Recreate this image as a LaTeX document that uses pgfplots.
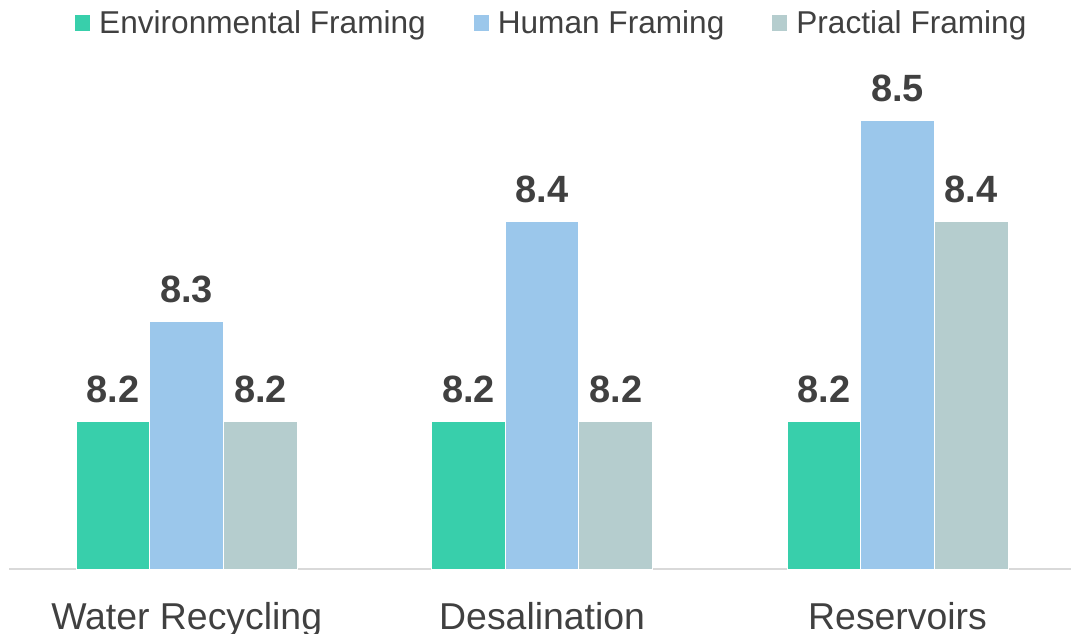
\documentclass[border=0pt]{standalone}
\usepackage{fontspec}
\setmainfont{Liberation Sans}
\usepackage{pgfplots}
\pgfplotsset{compat=1.18}
\definecolor{cgreen}{HTML}{38CFAB}
\definecolor{cblue}{HTML}{9BC7EB}
\definecolor{cgray}{HTML}{B5CDCE}
\definecolor{txt}{HTML}{404040}
\definecolor{axl}{HTML}{D9D9D9}
\begin{document}
\begin{tikzpicture}
\useasboundingbox (-9pt,-64pt) rectangle (1062pt,569pt);
\begin{axis}[
  at={(0,0)}, anchor=south west,
  scale only axis, width=1062pt, height=548pt,
  xmin=-0.5, xmax=2.488, ymin=8.052, ymax=8.6,
  clip=false,
  axis x line=bottom, axis y line=none,
  x axis line style={draw=axl, line width=1.5pt, -},
  xtick={0,1,2},
  xticklabels={Water Recycling, Desalination, Reservoirs},
  xtick style={draw=none},
  ytick=\empty,
  /pgf/number format/assume math mode=true,
  xticklabel style={font=\fontsize{37.4}{44}\selectfont, text=txt, anchor=base, yshift=-56pt, inner sep=0pt},
  ybar=0pt, bar width=73.7pt,
  nodes near coords,
  nodes near coords style={font=\fontsize{38}{44}\selectfont\bfseries, text=txt, anchor=base, yshift=19pt, inner sep=0pt},
  legend columns=3,
  legend style={draw=none, fill=none, at={(rel axis cs:0.0612,1.02)}, anchor=north west,
    inner sep=0pt, font=\fontsize{31.6}{38}\selectfont, text=txt,
    /tikz/every even column/.append style={column sep=47pt},
    nodes={inner sep=0pt}},
  legend cell align=left,
  legend image code/.code={\path (0pt,0pt) -- (24pt,0pt); \fill[#1] (0pt,-9pt) rectangle (16pt,7.5pt);},
]
\addplot[fill=cgreen, draw=white, line width=1pt] coordinates {(0,8.2) (1,8.2) (2,8.2)};
\addplot[fill=cblue, draw=white, line width=1pt] coordinates {(0,8.3) (1,8.4) (2,8.5)};
\addplot[fill=cgray, draw=white, line width=1pt] coordinates {(0,8.2) (1,8.2) (2,8.4)};
\legend{Environmental Framing, Human Framing, Practial Framing}
\end{axis}
\end{tikzpicture}
\end{document}
